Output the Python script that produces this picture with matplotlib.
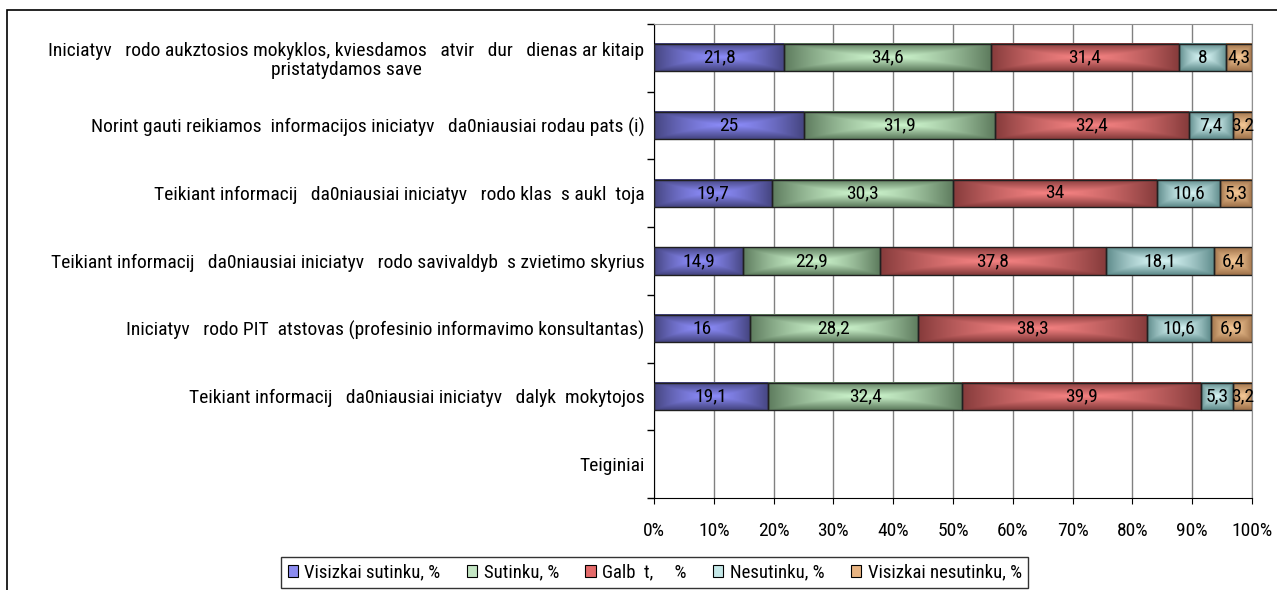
import numpy as np
import matplotlib.pyplot as plt
from matplotlib.patches import Rectangle, Patch

plt.rcParams['font.family'] = ['Roboto Condensed', 'Liberation Sans', 'DejaVu Sans']
plt.rcParams['font.size'] = 14

# teiginiai (nuo virsaus)
kategorijos = [
    "Iniciatyv   rodo aukztosios mokyklos, kviesdamos   atvir   dur   dienas ar kitaip\npristatydamos save",
    "Norint gauti reikiamos  informacijos iniciatyv   da0niausiai rodau pats (i)",
    "Teikiant informacij   da0niausiai iniciatyv   rodo klas  s aukl  toja",
    "Teikiant informacij   da0niausiai iniciatyv   rodo savivaldyb  s zvietimo skyrius",
    "Iniciatyv   rodo PIT  atstovas (profesinio informavimo konsultantas)",
    "Teikiant informacij   da0niausiai iniciatyv   dalyk  mokytojos",
    "Teiginiai",
]
serijos = ["Visizkai sutinku, %", "Sutinku, %", "Galb  t,     %", "Nesutinku, %", "Visizkai nesutinku, %"]

visiskai_sutinku = [21.8, 25, 19.7, 14.9, 16, 19.1, 0]
sutinku = [34.6, 31.9, 30.3, 22.9, 28.2, 32.4, 0]
galbut = [31.4, 32.4, 34, 37.8, 38.3, 39.9, 0]
nesutinku = [8, 7.4, 10.6, 18.1, 10.6, 5.3, 0]
visiskai_nesutinku = [4.3, 3.2, 5.3, 6.4, 6.9, 3.2, 0]

reiksmes = np.array([visiskai_sutinku, sutinku, galbut, nesutinku, visiskai_nesutinku])

# (centras, kraštas, legenda)
spalvos = [
    ((140, 140, 250), (70, 70, 130), '#8c8cf0'),
    ((205, 245, 205), (95, 125, 95), '#c4e6c4'),
    ((245, 130, 130), (135, 60, 60), '#e46a6a'),
    ((215, 245, 245), (95, 140, 140), '#c4e8e8'),
    ((245, 200, 150), (160, 115, 75), '#e8b482'),
]


def gradientas(centras, krastas, nx=80, ny=24):
    u = np.linspace(-1, 1, nx)
    v = np.linspace(-1, 1, ny)
    U, V = np.meshgrid(u, v)
    t = np.maximum(np.abs(U) ** 1.5, np.abs(V))
    c = np.array(centras) / 255.0
    e = np.array(krastas) / 255.0
    return c + (e - c) * t[..., None]


fig = plt.figure(figsize=(12.77, 5.90), dpi=100)
ax = fig.add_axes([654 / 1277, 1 - 498 / 590, (1252 - 654) / 1277, (498 - 24) / 590])

y = np.arange(len(kategorijos))
sumos = reiksmes.sum(axis=0)
sumos[sumos == 0] = 1
proc = reiksmes / sumos * 100
aukstis = 0.4

kaire = np.zeros(len(kategorijos))
for i, pav in enumerate(serijos):
    for j in range(len(kategorijos)):
        w = proc[i, j]
        if w <= 0:
            continue
        img = gradientas(spalvos[i][0], spalvos[i][1])
        ax.imshow(img, extent=[kaire[j], kaire[j] + w, y[j] + aukstis / 2, y[j] - aukstis / 2],
                  aspect='auto', interpolation='bilinear', zorder=2)
        ax.add_patch(Rectangle((kaire[j], y[j] - aukstis / 2), w, aukstis, fill=False,
                               edgecolor='#202020', lw=1, zorder=3))
        tekstas = ('%g' % reiksmes[i, j]).replace('.', ',')
        ax.text(kaire[j] + w / 2, y[j], tekstas, ha='center', va='center', zorder=4)
    kaire += proc[i]

ax.set_xlim(0, 100)
ax.set_ylim(len(kategorijos) - 0.5, -0.5)
ax.set_xticks(np.arange(0, 101, 10))
ax.set_xticklabels([f"{v}%" for v in range(0, 101, 10)])
ax.set_yticks(y)
ax.set_yticklabels(kategorijos, multialignment='center', linespacing=1.1)
ax.set_yticks(np.arange(-0.5, len(kategorijos), 1), minor=True)
ax.tick_params(axis='y', which='major', length=0, pad=7)
ax.tick_params(axis='y', which='minor', length=5, direction='out', width=1)
ax.tick_params(axis='x', length=4, direction='out', pad=13)
ax.grid(axis='x', color='#808080', lw=1, zorder=0)
ax.set_axisbelow(True)
for s in ['top', 'right']:
    ax.spines[s].set_color('#909090')
for s in ['left', 'bottom']:
    ax.spines[s].set_color('black')

rankenos = [Patch(facecolor=spalvos[i][2], edgecolor='black', lw=0.8) for i in range(len(serijos))]
leg = fig.legend(rankenos, serijos, loc='upper left', bbox_to_anchor=(281 / 1277, 1 - 557 / 590),
                 borderaxespad=0, ncol=5, frameon=True, fancybox=False, edgecolor='black',
                 handlelength=0.55, handleheight=0.55, handletextpad=0.35, columnspacing=1.4,
                 borderpad=0.35, fontsize=13.5)
leg.get_frame().set_linewidth(1)

fig.patches.append(Rectangle((7 / 1277, -0.1), 1.2, 1.1 - 10 / 590, transform=fig.transFigure,
                             fill=False, edgecolor='black', lw=1.2))

fig.savefig('out.png', dpi=100)
